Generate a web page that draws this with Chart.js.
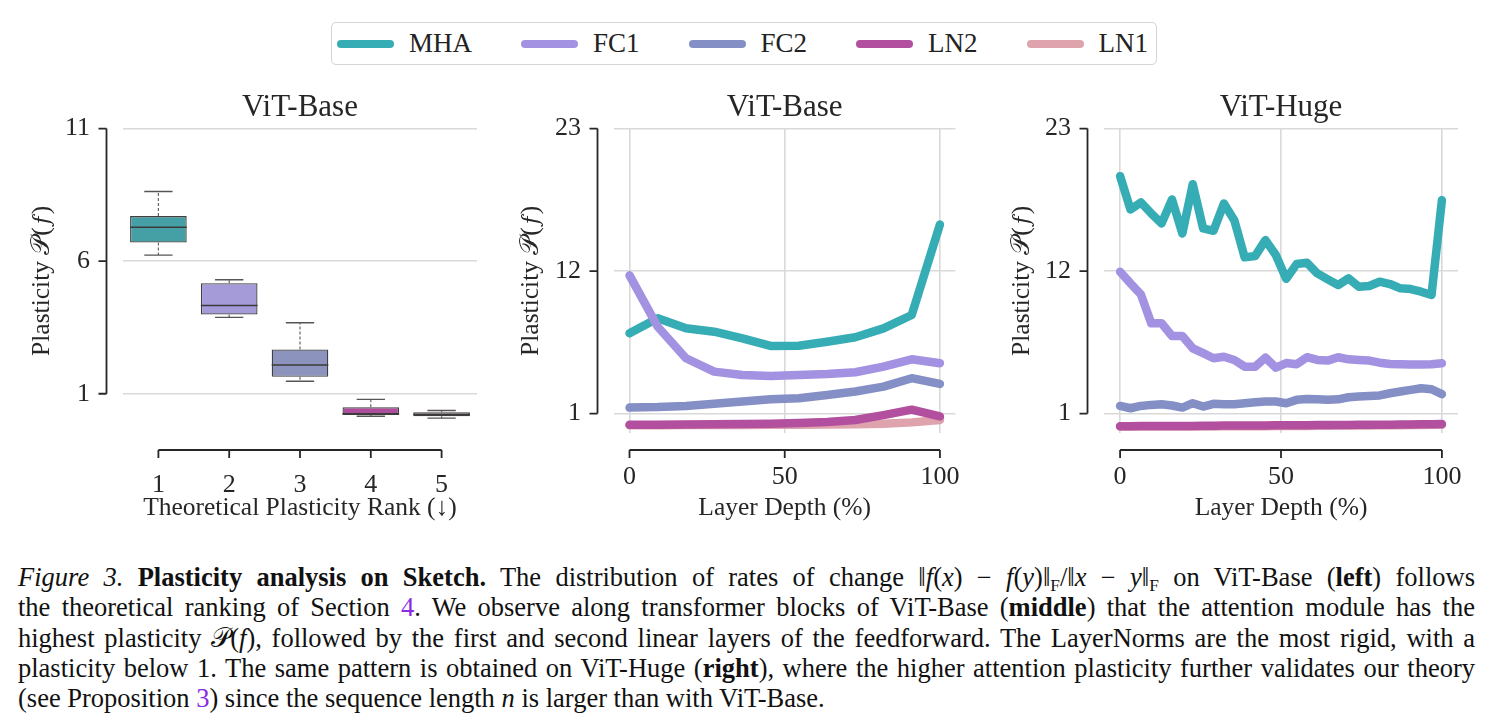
<!DOCTYPE html>
<html>
<head>
<meta charset="utf-8">
<script src="https://cdn.jsdelivr.net/npm/chart.js@4.4.1/dist/chart.umd.min.js"></script>
<style>
  body { margin: 0; background: #fff; width: 1492px; height: 722px; overflow: hidden; position: relative;
         font-family: "Liberation Serif", "Times New Roman", serif; color: #222; }
  canvas { position: absolute; top: 80px; }
  #legend { position: absolute; left: 331px; top: 22px; height: 41px; border: 1.5px solid #d4d4d4; border-radius: 5px;
            display: flex; align-items: center; padding: 0 8px 0 5px; font-size: 27px; color: #222; }
  .item { display: flex; align-items: center; margin-right: 49px; }
  .item:last-child { margin-right: 0; }
  .sw { width: 57px; height: 8px; border-radius: 4px; margin-right: 15px; }
  #caption { position: absolute; left: 18px; top: 562px; width: 1457px; font-size: 26.5px; line-height: 30.3px; color: #111; }
  #caption .ln { text-align: justify; text-align-last: justify; }
  #caption .ln.last { text-align: left; text-align-last: left; }
  #caption sub { font-size: 65%; line-height: 0; vertical-align: -0.3em; font-style: normal; }
  .ref { color: #8a2be2; }
</style>
</head>
<body>
<div id="legend"></div>
<canvas id="left" width="500" height="460" style="left:0px"></canvas>
<canvas id="mid" width="490" height="460" style="left:500px"></canvas>
<canvas id="right" width="502" height="460" style="left:990px"></canvas>
<div id="caption">
  <div class="ln"><i>Figure 3.</i> <b>Plasticity analysis on Sketch.</b> The distribution of rates of change ‖<i>f</i>(<i>x</i>) − <i>f</i>(<i>y</i>)‖<sub>F</sub>/‖<i>x</i> − <i>y</i>‖<sub>F</sub> on ViT-Base (<b>left</b>) follows</div>
  <div class="ln">the theoretical ranking of Section <span class="ref">4</span>. We observe along transformer blocks of ViT-Base (<b>middle</b>) that the attention module has the</div>
  <div class="ln">highest plasticity 𝒫(<i>f</i>), followed by the first and second linear layers of the feedforward. The LayerNorms are the most rigid, with a</div>
  <div class="ln">plasticity below 1. The same pattern is obtained on ViT-Huge (<b>right</b>), where the higher attention plasticity further validates our theory</div>
  <div class="ln last">(see Proposition <span class="ref">3</span>) since the sequence length <i>n</i> is larger than with ViT-Base.</div>
</div>
<script>
var seriesNames = ["MHA", "FC1", "FC2", "LN2", "LN1"];
var seriesColors = ["#36acb4", "#a391e2", "#848fc5", "#b2509f", "#dea3ac"];

// left: box plot per theoretical rank
var rankLabels = ["1", "2", "3", "4", "5"];
var boxMin = [6.23, 3.88, 1.47, 0.15, 0.08];
var boxQ1 = [6.70, 3.99, 1.64, 0.20, 0.15];
var boxMedian = [7.28, 4.33, 2.08, 0.25, 0.22];
var boxQ3 = [7.70, 5.17, 2.67, 0.49, 0.30];
var boxMax = [8.63, 5.30, 3.68, 0.79, 0.37];
var boxColors = ["#45a0a5", "#a59bd9", "#8c94bd", "#ad4d9c", "#9c868b"];
var leftYTicks = [1, 6, 11];

// middle: ViT-Base, 12 blocks
var baseDepth = [0, 9.09, 18.18, 27.27, 36.36, 45.45, 54.55, 63.64, 72.73, 81.82, 90.91, 100];
var baseMHA = [7.2, 8.36, 7.58, 7.32, 6.81, 6.22, 6.24, 6.55, 6.89, 7.58, 8.61, 15.6];
var baseFC1 = [11.67, 7.7, 5.27, 4.24, 3.98, 3.9, 3.98, 4.06, 4.19, 4.62, 5.19, 4.89];
var baseFC2 = [1.46, 1.5, 1.59, 1.75, 1.93, 2.11, 2.19, 2.44, 2.7, 3.08, 3.73, 3.29];
var baseLN2 = [0.13, 0.14, 0.15, 0.17, 0.2, 0.22, 0.27, 0.35, 0.5, 0.88, 1.3, 0.78];
var baseLN1 = [0.1, 0.1, 0.11, 0.11, 0.12, 0.13, 0.14, 0.15, 0.18, 0.22, 0.32, 0.5];

// right: ViT-Huge, 32 blocks
var hugeDepth = [0, 3.23, 6.45, 9.68, 12.9, 16.13, 19.35, 22.58, 25.81, 29.03, 32.26, 35.48, 38.71, 41.94, 45.16, 48.39,
                 51.61, 54.84, 58.06, 61.29, 64.52, 67.74, 70.97, 74.19, 77.42, 80.65, 83.87, 87.1, 90.32, 93.55, 96.77, 100];
var hugeMHA = [19.33, 16.76, 17.3, 16.45, 15.68, 17.53, 14.91, 18.71, 15.29, 15.11, 17.22, 15.93, 13.06, 13.16, 14.39, 13.24,
               11.4, 12.54, 12.64, 11.82, 11.36, 10.92, 11.44, 10.79, 10.85, 11.18, 11.0, 10.67, 10.61, 10.41, 10.15, 17.48];
var hugeFC1 = [11.95, 11.05, 10.2, 7.97, 7.97, 6.99, 6.99, 6.04, 5.66, 5.27, 5.39, 5.14, 4.62, 4.62, 5.32, 4.55,
               4.9, 4.81, 5.35, 5.14, 5.09, 5.35, 5.19, 5.14, 5.09, 4.93, 4.83, 4.81, 4.78, 4.78, 4.8, 4.88];
var hugeFC2 = [1.59, 1.41, 1.59, 1.67, 1.72, 1.62, 1.46, 1.8, 1.54, 1.75, 1.72, 1.72, 1.8, 1.88, 1.93, 1.93,
               1.8, 2.06, 2.13, 2.1, 2.06, 2.1, 2.26, 2.31, 2.36, 2.4, 2.57, 2.7, 2.83, 2.96, 2.88, 2.5];
var hugeLN2 = [0.03, 0.03, 0.04, 0.04, 0.04, 0.05, 0.05, 0.05, 0.06, 0.06, 0.07, 0.07, 0.07, 0.08, 0.08, 0.09,
               0.09, 0.1, 0.1, 0.11, 0.11, 0.12, 0.12, 0.13, 0.13, 0.14, 0.14, 0.15, 0.16, 0.17, 0.18, 0.19];
var hugeLN1 = [0.0, 0.0, 0.0, 0.0, 0.0, 0.0, 0.0, 0.01, 0.01, 0.01, 0.02, 0.02, 0.02, 0.03, 0.03, 0.04,
               0.04, 0.05, 0.05, 0.06, 0.06, 0.07, 0.07, 0.08, 0.08, 0.09, 0.09, 0.1, 0.11, 0.12, 0.13, 0.14];
var lineYTicks = [1, 12, 23];
var depthTicks = [0, 50, 100];

var SERIF = "'Liberation Serif', 'Times New Roman', serif";
var INK = "#262626";
var GRID = "#d9d9d9";

// legend
var legend = document.getElementById("legend");
seriesNames.forEach(function (name, i) {
  var item = document.createElement("div");
  item.className = "item";
  item.innerHTML = '<div class="sw" style="background:' + seriesColors[i] + '"></div><span>' + name + '</span>';
  legend.appendChild(item);
});

// offset, trimmed spines like seaborn despine(offset, trim=True)
var spines = {
  id: "spines",
  afterDraw: function (chart) {
    var ctx = chart.ctx, a = chart.chartArea;
    var xs = chart.scales.x, ys = chart.scales.y;
    var sx = a.left - 16.5, sy = a.bottom + 17;
    ctx.save();
    ctx.strokeStyle = INK;
    ctx.lineWidth = 1.8;
    ctx.beginPath();
    var yt = ys.ticks;
    ctx.moveTo(sx, ys.getPixelForValue(yt[0].value));
    ctx.lineTo(sx, ys.getPixelForValue(yt[yt.length - 1].value));
    yt.forEach(function (t) {
      var p = ys.getPixelForValue(t.value);
      ctx.moveTo(sx - 8, p); ctx.lineTo(sx, p);
    });
    var n = xs.ticks.length;
    ctx.moveTo(xs.getPixelForTick(0), sy);
    ctx.lineTo(xs.getPixelForTick(n - 1), sy);
    for (var i = 0; i < n; i++) {
      var q = xs.getPixelForTick(i);
      ctx.moveTo(q, sy); ctx.lineTo(q, sy + 8);
    }
    ctx.stroke();
    ctx.restore();
  }
};

// whiskers, caps and medians on top of the floating bars
var boxParts = {
  id: "boxParts",
  afterDatasetsDraw: function (chart) {
    var ctx = chart.ctx, ys = chart.scales.y;
    var meta = chart.getDatasetMeta(0);
    ctx.save();
    meta.data.forEach(function (bar, i) {
      var x = bar.x, w = bar.width;
      var pMin = ys.getPixelForValue(boxMin[i]), pQ1 = ys.getPixelForValue(boxQ1[i]);
      var pMed = ys.getPixelForValue(boxMedian[i]), pQ3 = ys.getPixelForValue(boxQ3[i]);
      var pMax = ys.getPixelForValue(boxMax[i]);
      ctx.strokeStyle = "#666";
      ctx.lineWidth = 1.2;
      ctx.setLineDash([3, 2]);
      ctx.beginPath();
      ctx.moveTo(x, pQ3); ctx.lineTo(x, pMax);
      ctx.moveTo(x, pQ1); ctx.lineTo(x, pMin);
      ctx.stroke();
      ctx.setLineDash([]);
      ctx.strokeStyle = "#555";
      ctx.lineWidth = 1.4;
      ctx.beginPath();
      ctx.moveTo(x - w / 4, pMax); ctx.lineTo(x + w / 4, pMax);
      ctx.moveTo(x - w / 4, pMin); ctx.lineTo(x + w / 4, pMin);
      ctx.stroke();
      ctx.strokeStyle = "#3a3a3a";
      ctx.lineWidth = 1.5;
      ctx.beginPath();
      ctx.moveTo(x - w / 2, pMed); ctx.lineTo(x + w / 2, pMed);
      ctx.stroke();
    });
    ctx.restore();
  }
};

function titleOpts(text) {
  return { display: true, text: text, fullSize: false, color: INK,
           font: { family: SERIF, size: 31, weight: "normal" }, padding: { top: 9, bottom: 1.8 } };
}

function yAxis(ticks, min, max, titlePad, width) {
  return {
    type: "linear", min: min, max: max,
    afterBuildTicks: function (s) { s.ticks = ticks.map(function (v) { return { value: v }; }); },
    afterFit: function (s) { s.width = width; },
    border: { display: false },
    grid: { color: GRID, lineWidth: 1.6, drawTicks: false },
    ticks: { color: INK, padding: 33, font: { family: SERIF, size: 26 } },
    title: { display: true, text: "Plasticity 𝒫(𝑓)", color: INK, padding: { top: titlePad, bottom: 0 },
             font: { family: SERIF, size: 25.5 } }
  };
}

function xTitle(text) {
  return { display: true, text: text, color: INK, padding: { top: 0, bottom: 16 }, font: { family: SERIF, size: 25.5 } };
}

// left chart
new Chart(document.getElementById("left"), {
  type: "bar",
  data: {
    labels: rankLabels,
    datasets: [{
      data: boxQ1.map(function (q, i) { return [q, boxQ3[i]]; }),
      backgroundColor: boxColors,
      borderColor: "#3f3f3f",
      borderWidth: 1.3,
      borderSkipped: false,
      barPercentage: 0.8,
      categoryPercentage: 1.0
    }]
  },
  options: {
    responsive: false, animation: false,
    layout: { padding: { left: 0, right: 23, top: 0, bottom: 0 } },
    plugins: { legend: { display: false }, tooltip: { enabled: false }, title: titleOpts("ViT-Base") },
    scales: {
      x: {
        afterFit: function (s) { s.height = 107; },
        border: { display: false },
        grid: { display: false },
        ticks: { color: INK, padding: 29, font: { family: SERIF, size: 26 } },
        title: xTitle("Theoretical Plasticity Rank (↓)")
      },
      y: yAxis(leftYTicks, -0.48, 11, 27, 123)
    }
  },
  plugins: [boxParts, spines]
});

function lineChart(id, depth, series, titlePad, padRight) {
  var order = [4, 3, 2, 1, 5];
  return new Chart(document.getElementById(id), {
    type: "line",
    data: {
      datasets: series.map(function (vals, k) {
        return {
          label: seriesNames[k],
          data: vals.map(function (v, i) { return { x: depth[i], y: v }; }),
          borderColor: seriesColors[k],
          borderWidth: 8.5,
          borderJoinStyle: "round",
          borderCapStyle: "round",
          pointRadius: 0,
          tension: 0,
          fill: false,
          order: order[k]
        };
      })
    },
    options: {
      responsive: false, animation: false,
      layout: { padding: { left: 0, right: padRight, top: 0, bottom: 0 } },
      plugins: { legend: { display: false }, tooltip: { enabled: false },
                 title: titleOpts(id === "mid" ? "ViT-Base" : "ViT-Huge") },
      scales: {
        x: {
          type: "linear", min: -5, max: 105,
          afterBuildTicks: function (s) { s.ticks = depthTicks.map(function (v) { return { value: v }; }); },
          afterFit: function (s) { s.height = 107; },
          border: { display: false },
          grid: { color: GRID, lineWidth: 1.6, drawTicks: false },
          ticks: { color: INK, padding: 29, font: { family: SERIF, size: 26 } },
          title: xTitle("Layer Depth (%)")
        },
        y: yAxis(lineYTicks, -0.5, 23, titlePad, 114)
      }
    },
    plugins: [spines]
  });
}

lineChart("mid", baseDepth, [baseMHA, baseFC1, baseFC2, baseLN2, baseLN1], 16, 23);
lineChart("right", hugeDepth, [hugeMHA, hugeFC1, hugeFC2, hugeLN2, hugeLN1], 17, 34);
</script>
</body>
</html>
